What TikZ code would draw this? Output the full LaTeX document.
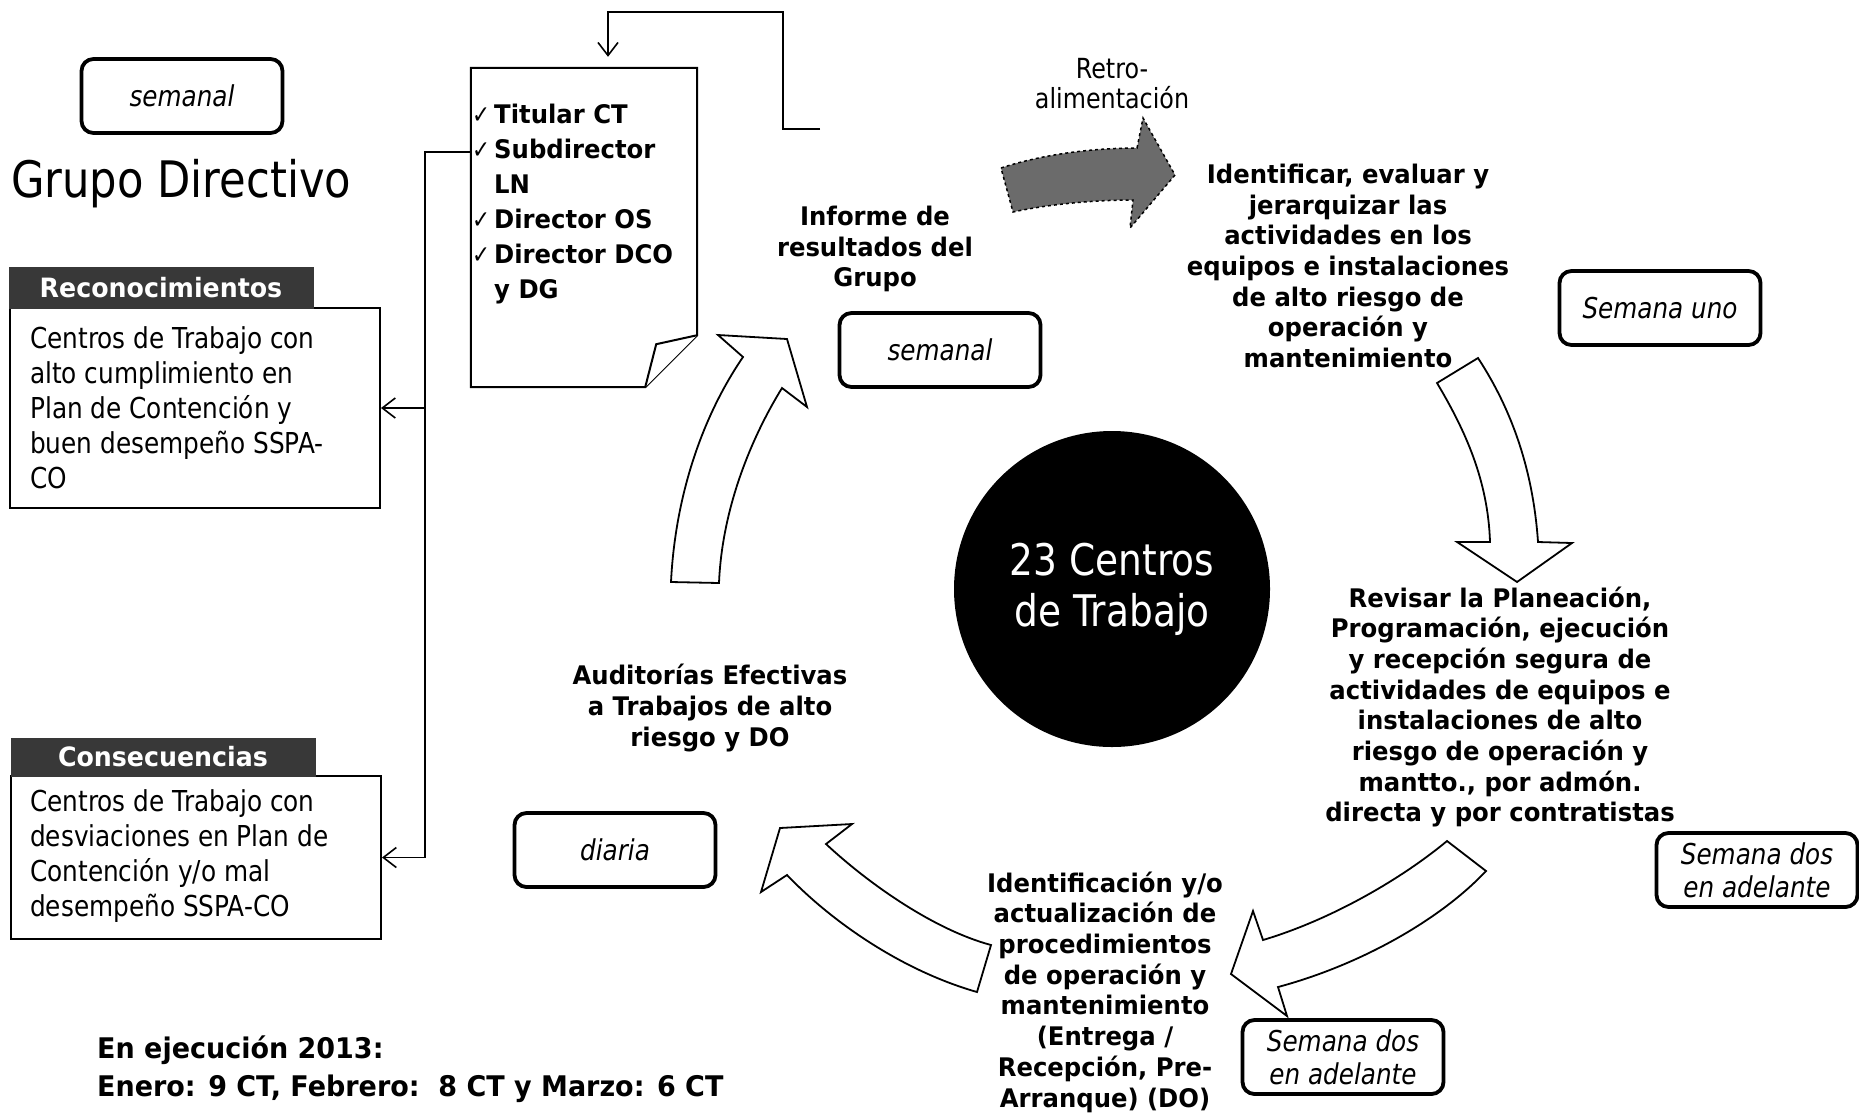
\documentclass[tikz,border=0pt]{standalone}
\usepackage{fontspec}
\setmainfont{DejaVu Sans}[UprightFeatures={FakeStretch=0.86}, BoldFont={DejaVu Sans Bold}, BoldFeatures={FakeStretch=0.95}, ItalicFont={DejaVu Sans Oblique}, ItalicFeatures={FakeStretch=0.86}]
\usetikzlibrary{arrows.meta}
\newcommand\ckm{\makebox[22pt][l]{\normalfont\fontsize{25}{25}\selectfont ✓}}
\tikzset{
  rbox/.style={draw, line width=3.8pt, rounded corners=12pt, minimum width=201pt, minimum height=74pt, font=\itshape\fontsize{28.7}{33}\selectfont, align=center, inner sep=0pt},
  lbl/.style={font=\bfseries\fontsize{25.6}{30.7}\selectfont, align=center, inner sep=0pt},
  bodytxt/.style={font=\fontsize{28.8}{35}\selectfont, align=left, inner sep=0pt, anchor=west},
  hdr/.style={fill=black!78, draw=black!78, text=white, font=\bfseries\fontsize{26.6}{30}\selectfont, inner sep=0pt},
  boxframe/.style={draw, line width=2pt, inner sep=0pt},
  conn/.style={line width=1.6pt},
  barb/.style={-{Straight Barb[length=13pt,width=20pt,line width=1.6pt]}},
  blk/.style={draw, fill=white, line width=1.8pt, line join=miter},
  docline/.style={draw, fill=white, line width=2pt},
}
\begin{document}
\begin{tikzpicture}[x=1pt,y=-1pt]
\useasboundingbox (0,0) rectangle (1859,1112);
\fill[white] (0,0) rectangle (1859,1112);

% left part
\node[rbox] (sem1) at (182,96) {semanal};
\node[font=\fontsize{50.3}{55}\selectfont, anchor=base west, inner sep=0pt] (grupo) at (11,197) {Grupo Directivo};

\node[boxframe, minimum width=370pt, minimum height=200pt] (reconbody) at (195,408) {};
\node[hdr, minimum width=304pt, minimum height=41pt] (reconhdr) at (161,287.5) {Reconocimientos};
\node[bodytxt] (recontxt) at (30,408) {Centros de Trabajo con\\alto cumplimiento en\\Plan de Contención y\\buen desempeño SSPA-\\CO};

\node[boxframe, minimum width=370pt, minimum height=163pt] (consbody) at (196,857.5) {};
\node[hdr, minimum width=304pt, minimum height=38pt] (conshdr) at (163,757) {Consecuencias};
\node[bodytxt] (constxt) at (30,856) {Centros de Trabajo con\\desviaciones en Plan de\\Contención y/o mal\\desempeño SSPA-CO};

% document
\node[minimum width=226pt, minimum height=319pt, inner sep=0pt] (doc) at (584,227.5) {};
\draw[docline] (doc.north west) -- (doc.north east) -- ([yshift=52pt]doc.south east) -- ([xshift=-52pt]doc.south east) -- (doc.south west) -- cycle;
\draw[docline] ([yshift=52pt]doc.south east) -- ([xshift=-41pt,yshift=43pt]doc.south east) -- ([xshift=-52pt]doc.south east);
\node[font=\bfseries\fontsize{25.6}{35}\selectfont, align=left, anchor=west, inner sep=0pt] (doctxt) at (472,204)
  {\ckm Titular CT\\\ckm Subdirector\\\hspace*{22pt}LN\\\ckm Director OS\\\ckm Director DCO\\\hspace*{22pt}y DG};

% connectors
\coordinate (jtop) at (425,152);
\draw[conn,barb] (doc.west |- jtop) -- (jtop) -- (jtop |- consbody.east) -- (consbody.east);
\draw[conn,barb] (jtop |- reconbody.east) -- (reconbody.east);
\coordinate (fb) at (820,129);
\draw[conn,barb,shorten >=11pt] (fb) -| (783,12) -| ([xshift=24pt]doc.north);

% centre
\node[circle, fill=black, minimum size=316pt, inner sep=0pt, text=white, font=\fontsize{43.6}{51}\selectfont, align=center] (hub) at (1112,589) {23 Centros\\de Trabajo};

% labels
\node[font=\fontsize{27.7}{30}\selectfont, align=center, inner sep=0pt] (retro) at (1112,84) {Retro-\\alimentación};
\node[lbl] (informe) at (875,249) {Informe de\\resultados del\\Grupo};
\node[lbl] (ident) at (1348,266) {Identificar, evaluar y\\jerarquizar las\\actividades en los\\equipos e instalaciones\\de alto riesgo de\\operación y\\mantenimiento};
\node[lbl] (revisar) at (1500,707) {Revisar la Planeación,\\Programación, ejecución\\y recepción segura de\\actividades de equipos e\\instalaciones de alto\\riesgo de operación y\\mantto., por admón.\\directa y por contratistas};
\node[lbl] (proc) at (1105,992) {Identificación y/o\\actualización de\\procedimientos\\de operación y\\mantenimiento\\(Entrega /\\Recepción, Pre-\\Arranque) (DO)};
\node[lbl] (audit) at (710,708) {Auditorías Efectivas\\a Trabajos de alto\\riesgo y DO};
\node[font=\bfseries\fontsize{28.4}{38}\selectfont, align=left, anchor=west, inner sep=0pt] (ejec) at (97,1069) {En ejecución 2013:\\Enero: 9 CT, Febrero:\ \ 8 CT y Marzo: 6 CT};

% rounded boxes
\node[rbox] (sem2) at (940,350) {semanal};
\node[rbox] (suno) at (1660,308) {Semana uno};
\node[rbox] (sdos1) at (1757,870) {Semana dos\\en adelante};
\node[rbox] (sdos2) at (1343,1057) {Semana dos\\en adelante};
\node[rbox] (diaria) at (615,850) {diaria};

% block arrows
\draw[blk] (1437,383) .. controls (1465,430) and (1488,480) .. (1490,542) -- (1457,542) -- (1517,582) -- (1572,543) -- (1538,542) .. controls (1533,470) and (1512,410) .. (1478,358) -- cycle;
\draw[blk] (1447,841) .. controls (1400,880) and (1330,920) .. (1263,940) -- (1253,911) -- (1231,974) -- (1287,1016) -- (1278,987) .. controls (1360,965) and (1440,920) .. (1486,871) -- cycle;
\draw[blk] (977,992) .. controls (900,970) and (830,920) .. (787,875) -- (761,892) -- (780,828) -- (852,824) -- (826,844) .. controls (870,885) and (935,930) .. (991,945) -- cycle;
\draw[blk] (671,582) .. controls (675,500) and (700,420) .. (743,357) -- (718,335) -- (787,339) -- (807,407) -- (782,388) .. controls (750,440) and (722,510) .. (719,583) -- cycle;
\draw[line width=1.5pt, dashed, fill=black!58] (1001,168) .. controls (1040,155) and (1090,148) .. (1137,148) -- (1143,118) -- (1175,175) -- (1130,228) -- (1133,200) .. controls (1090,200) and (1045,205) .. (1013,212) -- cycle;
\end{tikzpicture}
\end{document}
